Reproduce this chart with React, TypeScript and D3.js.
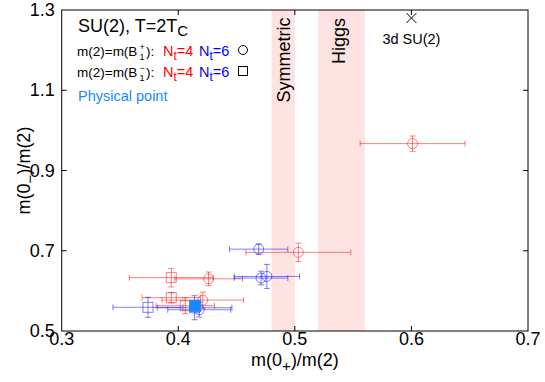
import * as d3 from 'd3';
import React, { useEffect, useRef } from "react";

// red = Nt=4, blue = Nt=6 ; circles = B1+, squares = B1-
const nt4Plus = [
  { x: 0.601, y: 0.967, xe: 0.045, ye: 0.019 },
  { x: 0.503, y: 0.696, xe: 0.045, ye: 0.023 },
  { x: 0.426, y: 0.630, xe: 0.029, ye: 0.017 },
  { x: 0.421, y: 0.577, xe: 0.035, ye: 0.020 },
];
const nt4Minus = [
  { x: 0.394, y: 0.633, xe: 0.036, ye: 0.023 },
  { x: 0.394, y: 0.583, xe: 0.025, ye: 0.013 },
  { x: 0.406, y: 0.563, xe: 0.025, ye: 0.020 },
];
const nt6Plus = [
  { x: 0.469, y: 0.704, xe: 0.025, ye: 0.013 },
  { x: 0.471, y: 0.632, xe: 0.023, ye: 0.017 },
  { x: 0.476, y: 0.636, xe: 0.028, ye: 0.030 },
  { x: 0.418, y: 0.553, xe: 0.027, ye: 0.018 },
];
const nt6Minus = [
  { x: 0.374, y: 0.559, xe: 0.030, ye: 0.025 },
  { x: 0.414, y: 0.558, xe: 0.032, ye: 0.030 },
];
const physicalPoint = { x: 0.4145, y: 0.5625 };
const su2_3d = { x: 0.6, y: 1.28 };
const bands = [
  { x0: 0.48, x1: 0.50, label: "Symmetric" },
  { x0: 0.52, x1: 0.56, label: "Higgs" },
];
const xTicks = [0.3, 0.4, 0.5, 0.6, 0.7];
const yTicks = [0.5, 0.7, 0.9, 1.1, 1.3];

const RED = "#ff0000";
const BLUE = "#0000ff";
const PHYS = "#1a88ff";
const FONT = "'Liberation Sans', Arial, Helvetica, sans-serif";

export default function App() {
  const ref = useRef<SVGSVGElement>(null);

  useEffect(() => {
    const svg = d3.select(ref.current);
    svg.selectAll('*').remove();
    const x = d3.scaleLinear().domain([0.3, 0.7]).range([61.7, 528]);
    const y = d3.scaleLinear().domain([0.5, 1.3]).range([331, 10]);
    svg.attr("font-family", FONT);

    // shaded bands
    bands.forEach(b => {
      svg.append("rect")
        .attr("x", x(b.x0)).attr("y", y(1.3))
        .attr("width", x(b.x1) - x(b.x0)).attr("height", y(0.5) - y(1.3))
        .attr("fill", "#ffe2e2");
    });
    svg.append("text")
      .attr("transform", `translate(${(x(0.48) + x(0.5)) / 2 + 7},${y(1.3) + 50}) rotate(-90)`)
      .attr("text-anchor", "middle").attr("font-size", 18).text("Symmetric");
    svg.append("text")
      .attr("transform", `translate(${(x(0.52) + x(0.56)) / 2 + 4},${y(1.3) + 31}) rotate(-90)`)
      .attr("text-anchor", "middle").attr("font-size", 18).text("Higgs");

    const drawSeries = (data: any[], color: string, shape: string) => {
      const g = svg.append("g").attr("stroke", color).attr("stroke-opacity", 0.5).attr("fill", "none");
      data.forEach(d => {
        const cx = x(d.x), cy = y(d.y);
        const x0 = x(d.x - d.xe), x1 = x(d.x + d.xe);
        const y0 = y(d.y - d.ye), y1 = y(d.y + d.ye);
        g.append("line").attr("x1", x0).attr("x2", x1).attr("y1", cy).attr("y2", cy);
        g.append("line").attr("x1", x0).attr("x2", x0).attr("y1", cy - 3).attr("y2", cy + 3);
        g.append("line").attr("x1", x1).attr("x2", x1).attr("y1", cy - 3).attr("y2", cy + 3);
        g.append("line").attr("x1", cx).attr("x2", cx).attr("y1", y0).attr("y2", y1);
        g.append("line").attr("x1", cx - 3).attr("x2", cx + 3).attr("y1", y0).attr("y2", y0);
        g.append("line").attr("x1", cx - 3).attr("x2", cx + 3).attr("y1", y1).attr("y2", y1);
        if (shape === "circle") {
          g.append("circle").attr("cx", cx).attr("cy", cy).attr("r", 5);
        } else {
          g.append("rect").attr("x", cx - 5).attr("y", cy - 5).attr("width", 10).attr("height", 10);
        }
      });
    };
    drawSeries(nt4Plus, RED, "circle");
    drawSeries(nt4Minus, RED, "square");
    drawSeries(nt6Plus, BLUE, "circle");
    drawSeries(nt6Minus, BLUE, "square");

    svg.append("rect")
      .attr("x", x(physicalPoint.x) - 6).attr("y", y(physicalPoint.y) - 6)
      .attr("width", 12).attr("height", 12).attr("fill", PHYS);

    // 3d SU(2) cross
    const sx = x(su2_3d.x), sy = y(su2_3d.y);
    svg.append("path").attr("d", `M${sx - 5},${sy - 5}L${sx + 5},${sy + 5}M${sx - 5},${sy + 5}L${sx + 5},${sy - 5}`)
      .attr("stroke", "#000").attr("stroke-width", 1);
    svg.append("text").attr("x", sx).attr("y", sy + 26).attr("text-anchor", "middle")
      .attr("font-size", 14.5).text("3d SU(2)");

    // frame and ticks
    svg.append("rect")
      .attr("x", x(0.3)).attr("y", y(1.3))
      .attr("width", x(0.7) - x(0.3)).attr("height", y(0.5) - y(1.3))
      .attr("fill", "none").attr("stroke", "#000").attr("stroke-width", 1);
    const tk = svg.append("g").attr("stroke", "#000").attr("stroke-width", 1);
    xTicks.slice(1, -1).forEach(t => {
      tk.append("line").attr("x1", x(t)).attr("x2", x(t)).attr("y1", y(0.5)).attr("y2", y(0.5) - 5);
      tk.append("line").attr("x1", x(t)).attr("x2", x(t)).attr("y1", y(1.3)).attr("y2", y(1.3) + 5);
    });
    yTicks.slice(1, -1).forEach(t => {
      tk.append("line").attr("x1", x(0.3)).attr("x2", x(0.3) + 5).attr("y1", y(t)).attr("y2", y(t));
      tk.append("line").attr("x1", x(0.7)).attr("x2", x(0.7) - 5).attr("y1", y(t)).attr("y2", y(t));
    });
    xTicks.forEach(t => {
      svg.append("text").attr("x", x(t)).attr("y", y(0.5) + 14).attr("text-anchor", "middle")
        .attr("font-size", 18).text(String(t));
    });
    yTicks.forEach(t => {
      svg.append("text").attr("x", x(0.3) - 7).attr("y", y(t) + 6).attr("text-anchor", "end")
        .attr("font-size", 18).text(t.toFixed(1));
    });

    // axis titles
    const xt = svg.append("text").attr("x", 295).attr("y", 366).attr("text-anchor", "middle").attr("font-size", 18);
    xt.append("tspan").text("m(0");
    xt.append("tspan").attr("dy", 5).attr("font-size", 15).text("+");
    xt.append("tspan").attr("dy", -5).text(")/m(2)");
    const yt = svg.append("text").attr("transform", `translate(30,${(y(0.5) + y(1.3)) / 2}) rotate(-90)`)
      .attr("text-anchor", "middle").attr("font-size", 18);
    yt.append("tspan").text("m(0");
    yt.append("tspan").attr("dy", 5).attr("font-size", 15).text("\u2212");
    yt.append("tspan").attr("dy", -5).text(")/m(2)");

    // legend
    const t1 = svg.append("text").attr("x", 78).attr("y", 32).attr("font-size", 18);
    t1.append("tspan").text("SU(2), T=2T");
    t1.append("tspan").attr("dy", 4).attr("font-size", 15).text("C");

    const legendRow = (yy: number, sign: string, shape: string) => {
      svg.append("text").attr("x", 77).attr("y", yy).attr("font-size", 13.5).text("m(2)=m(B");
      svg.append("text").attr("x", 139.5).attr("y", yy - 6).attr("font-size", 9).text(sign);
      svg.append("text").attr("x", 139.5).attr("y", yy + 4).attr("font-size", 9).text("1");
      svg.append("text").attr("x", 146).attr("y", yy).attr("font-size", 13.5).text("):");
      const r = svg.append("text").attr("x", 163).attr("y", yy).attr("font-size", 14.5).attr("fill", RED);
      r.append("tspan").text("N");
      r.append("tspan").attr("dy", 4).attr("font-size", 12).text("t");
      r.append("tspan").attr("dy", -4).text("=4");
      const b = svg.append("text").attr("x", 199).attr("y", yy).attr("font-size", 14.5).attr("fill", BLUE);
      b.append("tspan").text("N");
      b.append("tspan").attr("dy", 4).attr("font-size", 12).text("t");
      b.append("tspan").attr("dy", -4).text("=6");
      if (shape === "circle") {
        svg.append("circle").attr("cx", 243).attr("cy", yy - 6).attr("r", 4.5)
          .attr("fill", "none").attr("stroke", "#000");
      } else {
        svg.append("rect").attr("x", 238.5).attr("y", yy - 10.5).attr("width", 9).attr("height", 9)
          .attr("fill", "none").attr("stroke", "#000");
      }
    };
    legendRow(56, "+", "circle");
    legendRow(77, "\u2212", "square");
    svg.append("text").attr("x", 78).attr("y", 101).attr("font-size", 14.5).attr("fill", PHYS).text("Physical point");
  }, []);

  return (
    <div style={{ position: 'absolute', left: 0, top: 0 }}>
      <svg ref={ref} width={545} height={382} />
    </div>
  );
}
